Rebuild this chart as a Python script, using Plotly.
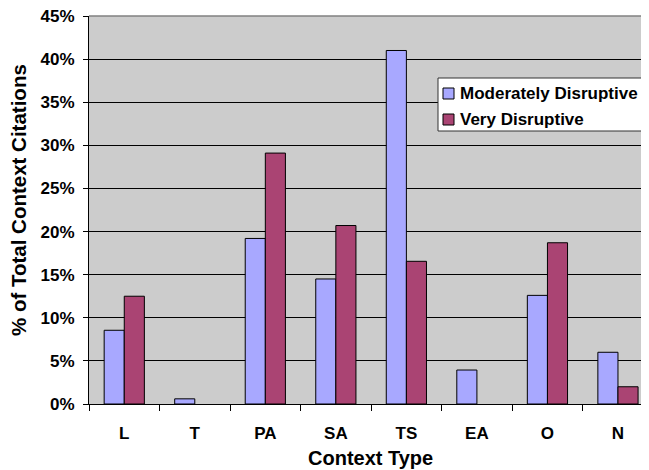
import plotly.graph_objects as go

categories = ["L", "T", "PA", "SA", "TS", "EA", "O", "N"]
moderately = [8.55, 0.6, 19.2, 14.5, 41.0, 3.94, 12.6, 6.0]
very = [12.5, None, 29.1, 20.7, 16.55, None, 18.7, 2.0]
y_ticks = [0, 5, 10, 15, 20, 25, 30, 35, 40, 45]
y_tick_text = [f"{v}%" for v in y_ticks]
series_names = ["Moderately Disruptive", "Very Disruptive"]
series_colors = ["#A8A8FF", "#AA4473"]

FONT = "Arial, 'Liberation Sans', sans-serif"

# page body has an 8px margin, so the figure is offset by (8, 8)
OFF = 8
W, H = 649 - OFF, 470 - OFF
ML, MR, MT, MB = 89 - OFF, 0, 16 - OFF, 66
PW, PH = W - ML - MR, H - MT - MB


def fx(px):  # reference-pixel x -> paper fraction
    return (px - OFF - ML) / PW


def fy(py):  # reference-pixel y -> paper fraction
    return (H - MB - (py - OFF)) / PH


fig = go.Figure()
for name, vals, col in zip(series_names, [moderately, very], series_colors):
    fig.add_trace(go.Bar(
        x=categories, y=vals, name=name,
        marker=dict(color=col, line=dict(color="#000000", width=1)),
    ))

fig.update_layout(
    width=W, height=H,
    margin=dict(l=ML, r=MR, t=MT, b=MB, autoexpand=False),
    paper_bgcolor="white",
    plot_bgcolor="#CCCCCC",
    barmode="group",
    bargap=0.43,
    bargroupgap=0,
    font=dict(family=FONT, color="black"),
    showlegend=False,
    xaxis=dict(
        range=[-0.5, 7.44],
        showgrid=False,
        showline=True, linecolor="black", linewidth=1,
        ticks="outside", tickson="boundaries", ticklen=6, tickcolor="black",
        tickfont=dict(family=FONT, size=17, weight="bold"),
        ticklabelstandoff=14,
        ticklabeloverflow="allow",
        automargin=False,
        fixedrange=True,
    ),
    yaxis=dict(
        range=[0, 45],
        tickvals=y_ticks, ticktext=y_tick_text,
        showgrid=True, gridcolor="black", gridwidth=1,
        showline=True, linecolor="black", linewidth=1,
        ticks="outside", ticklen=5, tickcolor="black",
        tickfont=dict(family=FONT, size=17, weight="bold"),
        ticklabelstandoff=5,
        ticklabeloverflow="allow",
        zeroline=False,
        automargin=False,
        fixedrange=True,
    ),
)

# top border of plot area
fig.add_shape(type="line", xref="paper", yref="paper", x0=0, x1=1, y0=1, y1=1,
              line=dict(color="#808080", width=1.5), layer="above")

# axis titles
fig.add_annotation(text="<b>Context Type</b>", xref="paper", yref="paper",
                   x=fx(370), y=fy(458), xanchor="center", yanchor="middle",
                   showarrow=False, font=dict(family=FONT, size=20, color="black"))
fig.add_annotation(text="<b>% of Total Context Citations</b>", xref="paper", yref="paper",
                   x=fx(18), y=fy(200), xanchor="center", yanchor="middle", textangle=-90,
                   showarrow=False, font=dict(family=FONT, size=20.5, color="black"))

# legend box
fig.add_shape(type="rect", xref="paper", yref="paper",
              x0=fx(438), x1=fx(642), y0=fy(131), y1=fy(78),
              fillcolor="white", line=dict(color="#333333", width=1), layer="above")
row_centers = [93.5, 119.5]
for name, col, cy in zip(series_names, series_colors, row_centers):
    fig.add_shape(type="rect", xref="paper", yref="paper",
                  x0=fx(443), x1=fx(454), y0=fy(cy + 5.5), y1=fy(cy - 5.5),
                  fillcolor=col, line=dict(color="#000000", width=1), layer="above")
    fig.add_annotation(text=f"<b>{name}</b>", xref="paper", yref="paper",
                       x=fx(458), y=fy(cy), xanchor="left", yanchor="middle",
                       showarrow=False, font=dict(family=FONT, size=17, color="black"))

fig.write_html("out.html")
